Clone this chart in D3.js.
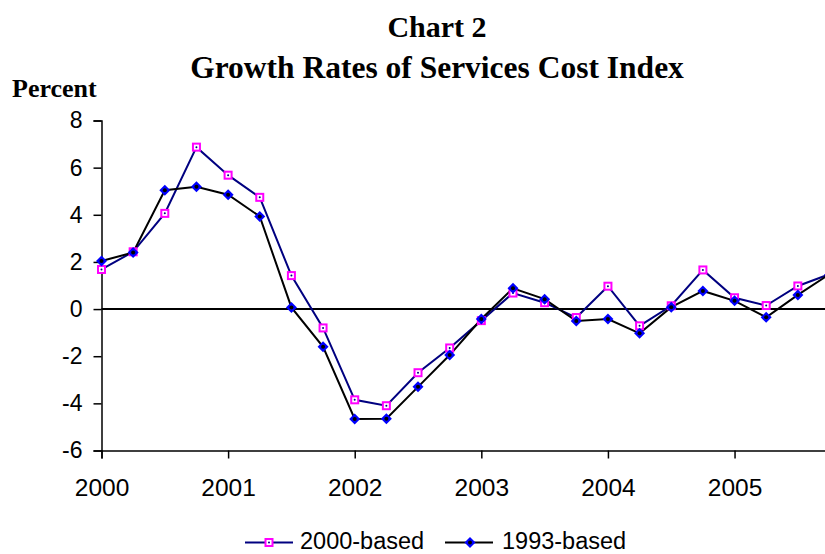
<!DOCTYPE html>
<html>
<head>
<meta charset="utf-8">
<title>Growth Rates of Services Cost Index</title>
<style>
    body { margin: 0; background: #fff; }
    svg { display: block; }
    .title { font-family: 'Liberation Serif', 'Times New Roman', serif; font-weight: bold; }
    .tick text, .legend text { font-family: 'Liberation Sans', Arial, sans-serif; fill: #000; }
</style>
</head>
<body>
<div id="chart"></div>
<script src="https://cdn.jsdelivr.net/npm/d3@7/dist/d3.min.js"></script>
<script>
    // quarterly categories, 2000Q1 .. 2005Q4
    var years = ['2000', '2001', '2002', '2003', '2004', '2005'];
    var quarters = [];
    years.forEach(function(y) {
        ['Q1', 'Q2', 'Q3', 'Q4'].forEach(function(q) { quarters.push(y + q); });
    });

    var based2000 = [1.68, 2.43, 4.06, 6.87, 5.68, 4.74, 1.42, -0.80,
                     -3.85, -4.10, -2.70, -1.65, -0.49, 0.68, 0.27, -0.36,
                     0.97, -0.71, 0.14, 1.66, 0.48, 0.15, 0.98, 1.48];
    var based1993 = [2.04, 2.40, 5.04, 5.19, 4.85, 3.93, 0.07, -1.60,
                     -4.66, -4.65, -3.30, -1.95, -0.42, 0.88, 0.42, -0.51,
                     -0.42, -1.03, 0.08, 0.77, 0.35, -0.35, 0.60, 1.48];
    var yTicks = [-6, -4, -2, 0, 2, 4, 6, 8];

    var width = 825, height = 554;
    var svg = d3.select('#chart').append('svg')
        .attr('width', width)
        .attr('height', height);

    var x = d3.scalePoint()
        .domain(quarters)
        .range([101.5, 829.5]);
    var y = d3.scaleLinear()
        .domain([-6, 8])
        .range([450.5, 120.5]);

    // titles
    svg.append('text').attr('class', 'title')
        .attr('x', 437).attr('y', 37)
        .attr('text-anchor', 'middle')
        .style('font-size', '30px')
        .text('Chart 2');
    svg.append('text').attr('class', 'title')
        .attr('x', 437).attr('y', 78)
        .attr('text-anchor', 'middle')
        .style('font-size', '31.5px')
        .text('Growth Rates of Services Cost Index');
    svg.append('text').attr('class', 'title')
        .attr('x', 12).attr('y', 96.5)
        .style('font-size', '26px')
        .text('Percent');

    // y axis
    var yAxis = svg.append('g')
        .attr('transform', 'translate(101.5,0)')
        .call(d3.axisLeft(y).tickValues(yTicks).tickSize(8).tickPadding(11)
            .tickFormat(function(d) { return String(d); }));
    yAxis.selectAll('text').style('font-size', '23px');

    // x axis, year labels at every first quarter
    var xAxis = svg.append('g')
        .attr('transform', 'translate(0,' + y(-6) + ')')
        .call(d3.axisBottom(x)
            .tickValues(quarters.filter(function(d) { return /Q1$/.test(d); }))
            .tickSize(8).tickPadding(20)
            .tickFormat(function(d) { return d.slice(0, 4); }));
    xAxis.selectAll('text').style('font-size', '24.5px');

    svg.selectAll('.domain, .tick line')
        .attr('stroke', '#000')
        .attr('stroke-width', 1.5);

    // zero line
    svg.append('line')
        .attr('x1', x(quarters[0])).attr('x2', width)
        .attr('y1', y(0)).attr('y2', y(0))
        .attr('stroke', '#000').attr('stroke-width', 2);

    var line = d3.line()
        .x(function(d, i) { return x(quarters[i]); })
        .y(function(d) { return y(d); });

    // 2000-based: navy line, magenta hollow squares
    svg.append('path')
        .datum(based2000)
        .attr('d', line)
        .attr('fill', 'none')
        .attr('stroke', '#000080')
        .attr('stroke-width', 2);

    // 1993-based: black line, blue diamonds
    svg.append('path')
        .datum(based1993)
        .attr('d', line)
        .attr('fill', 'none')
        .attr('stroke', '#000')
        .attr('stroke-width', 2);

    function squares(g, data) {
        g.selectAll('rect.sq').data(data).enter().append('rect')
            .attr('class', 'sq')
            .attr('x', function(d, i) { return x(quarters[i]) - 3.5; })
            .attr('y', function(d) { return y(d) - 3.5; })
            .attr('width', 7).attr('height', 7)
            .attr('fill', '#fff')
            .attr('stroke', '#ff00ff')
            .attr('stroke-width', 2);
        g.selectAll('circle.sqdot').data(data).enter().append('circle')
            .attr('class', 'sqdot')
            .attr('cx', function(d, i) { return x(quarters[i]); })
            .attr('cy', function(d) { return y(d); })
            .attr('r', 1).attr('fill', '#000080');
    }
    function diamonds(g, data) {
        g.selectAll('path.dm').data(data).enter().append('path')
            .attr('class', 'dm')
            .attr('d', 'M0,-5.5L5.5,0L0,5.5L-5.5,0Z')
            .attr('transform', function(d, i) {
                return 'translate(' + x(quarters[i]) + ',' + y(d) + ')';
            })
            .attr('fill', '#0000ff');
        g.selectAll('circle.dmdot').data(data).enter().append('circle')
            .attr('class', 'dmdot')
            .attr('cx', function(d, i) { return x(quarters[i]); })
            .attr('cy', function(d) { return y(d); })
            .attr('r', 2).attr('fill', '#000');
    }
    squares(svg.append('g'), based2000);
    diamonds(svg.append('g'), based1993);

    // legend
    var legend = svg.append('g').attr('class', 'legend');
    var ly = 542.5;
    legend.append('line').attr('x1', 245).attr('x2', 293).attr('y1', ly).attr('y2', ly)
        .attr('stroke', '#000080').attr('stroke-width', 2);
    squares(legend.append('g').attr('transform', 'translate(' + (269 - x(quarters[0])) + ',' + (ly - y(0)) + ')'), [0]);
    legend.append('text').attr('x', 300).attr('y', 548.5)
        .style('font-size', '23.5px').text('2000-based');

    legend.append('line').attr('x1', 445).attr('x2', 493).attr('y1', ly).attr('y2', ly)
        .attr('stroke', '#000').attr('stroke-width', 2);
    diamonds(legend.append('g').attr('transform', 'translate(' + (470 - x(quarters[0])) + ',' + (ly - y(0)) + ')'), [0]);
    legend.append('text').attr('x', 502).attr('y', 548.5)
        .style('font-size', '23.5px').text('1993-based');
</script>
</body>
</html>
